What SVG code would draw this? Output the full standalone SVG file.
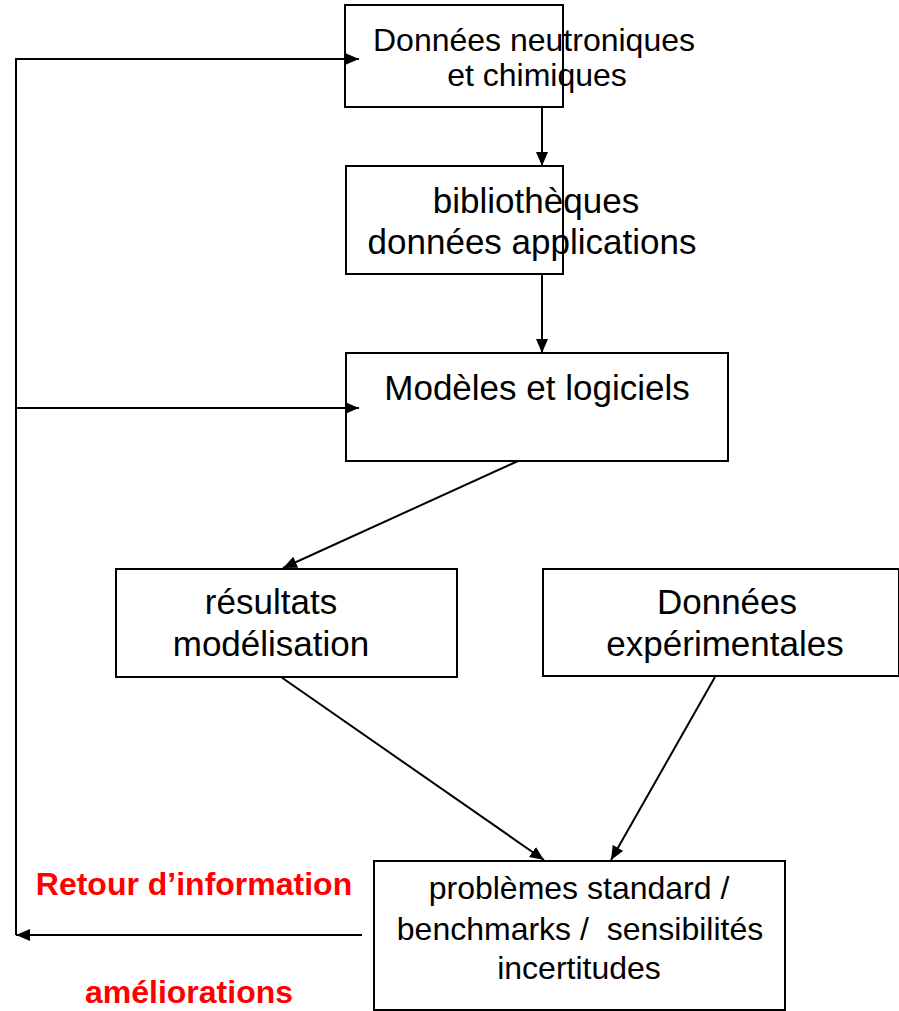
<svg xmlns="http://www.w3.org/2000/svg" width="899" height="1011" viewBox="0 0 899 1011">
<defs>
<marker id="ah" markerWidth="14" markerHeight="12" refX="14" refY="6" orient="auto" markerUnits="userSpaceOnUse">
<path d="M0,0 L14,6 L0,12 Z" fill="#000"/>
</marker>
<style>
.box{fill:#fff;stroke:#000;stroke-width:2}
.t{font-family:"Liberation Sans",Arial,sans-serif;font-size:35px;fill:#000;text-anchor:middle}
.s{font-size:32px}
.r{font-family:"Liberation Sans",Arial,sans-serif;font-size:32px;font-weight:bold;fill:#ff0000;text-anchor:middle}
.c{fill:none;stroke:#000;stroke-width:2}
</style>
</defs>
<rect width="899" height="1011" fill="#fff"/>
<g id="n1"><rect class="box" x="345" y="5" width="218" height="102"/>
<text class="t s" x="534" y="51">Données neutroniques</text><text class="t s" x="537" y="86">et chimiques</text></g>
<g id="n2"><rect class="box" x="346" y="166" width="217" height="108"/>
<text class="t" x="536" y="213">bibliothèques</text><text class="t" x="532" y="254">données applications</text></g>
<g id="n3"><rect class="box" x="346" y="353" width="382" height="108"/>
<text class="t" x="537" y="400">Modèles et logiciels</text></g>
<g id="n4"><rect class="box" x="116" y="569" width="341" height="108"/>
<text class="t" x="271" y="614">résultats</text><text class="t" x="271" y="656">modélisation</text></g>
<g id="n5"><rect class="box" x="543" y="569" width="356" height="107"/>
<text class="t" x="727" y="614">Données</text><text class="t" x="725" y="656">expérimentales</text></g>
<g id="n6"><rect class="box" x="374" y="861" width="411" height="149"/>
<text class="t s" x="579" y="899">problèmes standard /</text><text class="t s" x="580" y="940" xml:space="preserve">benchmarks /  sensibilités</text><text class="t s" x="579" y="979">incertitudes</text></g>
<g id="connectors">
<polyline class="c" points="16,935 16,59 359,59" marker-end="url(#ah)"/>
<line class="c" x1="362" y1="935" x2="16" y2="935" marker-end="url(#ah)"/>
<line class="c" x1="16" y1="408" x2="359" y2="408" marker-end="url(#ah)"/>
<line class="c" x1="542" y1="107" x2="542" y2="166" marker-end="url(#ah)"/>
<line class="c" x1="542" y1="274" x2="542" y2="353" marker-end="url(#ah)"/>
<line class="c" x1="518" y1="461" x2="283" y2="568" marker-end="url(#ah)"/>
<line class="c" x1="281" y1="677" x2="544" y2="860" marker-end="url(#ah)"/>
<line class="c" x1="715" y1="677" x2="611" y2="860" marker-end="url(#ah)"/>
</g>
<g id="labels">
<text class="r" x="194" y="895">Retour d’information</text>
<text class="r" x="189" y="1003">améliorations</text>
</g>
</svg>
